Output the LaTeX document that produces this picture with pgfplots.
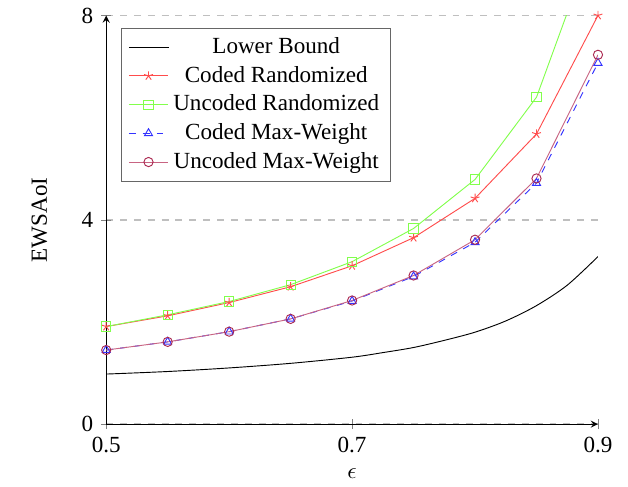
\documentclass[border=0pt]{standalone}
\usepackage{fontspec}
\setmainfont{Liberation Serif}
\usepackage{pgfplots}
\pgfplotsset{compat=1.18}

\definecolor{cmwline}{RGB}{200,100,130}
\definecolor{cmwmark}{RGB}{170,40,80}

\begin{document}
\begin{tikzpicture}
\begin{axis}[
    scale only axis,
    width=213pt,
    height=177pt,
    axis lines=left,
    xmin=0.5, xmax=0.9,
    ymin=0, ymax=8,
    xtick={0.5,0.7,0.9},
    ytick={0,4,8},
    xticklabels={0.5,0.7,0.9},
    ymajorgrids,
    major grid style={gray!50, dashed, thick},
    xlabel={$\epsilon$},
    ylabel={EWSAoI},
    ylabel shift=8pt,
    /pgf/number format/assume math mode=true,
    legend cell align=center,
    legend style={at={(0.03,0.97)}, anchor=north west, draw=black!60},
]
\addplot[black, smooth, no marks] coordinates {
(0.5,0.98) (0.55,1.03) (0.6,1.10) (0.65,1.19) (0.7,1.31) (0.725,1.40)
(0.75,1.50) (0.775,1.64) (0.8,1.80) (0.825,2.02) (0.85,2.32) (0.875,2.72) (0.9,3.28)};
\addlegendentry{Lower Bound}
\addplot[red!70, mark=star, mark options={solid}] coordinates {
(0.5,1.91) (0.55,2.12) (0.6,2.38) (0.65,2.69) (0.7,3.10) (0.75,3.65)
(0.8,4.42) (0.85,5.68) (0.9,8.0)};
\addlegendentry{Coded Randomized}
\addplot[green!60!lime!70, mark=square, mark options={solid}] coordinates {
(0.5,1.91) (0.55,2.14) (0.6,2.40) (0.65,2.73) (0.7,3.18) (0.75,3.83)
(0.8,4.79) (0.85,6.40) (0.9,9.7)};
\addlegendentry{Uncoded Randomized}
\addplot[blue!80, dashed, mark=triangle, mark options={solid}] coordinates {
(0.5,1.45) (0.55,1.61) (0.6,1.81) (0.65,2.06) (0.7,2.41) (0.75,2.89)
(0.8,3.56) (0.85,4.72) (0.9,7.07)};
\addlegendentry{Coded Max-Weight}
\addplot[cmwline, mark=o, mark options={solid, draw=cmwmark}] coordinates {
(0.5,1.45) (0.55,1.61) (0.6,1.81) (0.65,2.06) (0.7,2.42) (0.75,2.91)
(0.8,3.61) (0.85,4.81) (0.9,7.23)};
\addlegendentry{Uncoded Max-Weight}
\end{axis}
\path ([xshift=-46pt,yshift=-23pt]current axis.south west)
  rectangle ([xshift=13pt,yshift=6.5pt]current axis.north east);
\end{tikzpicture}
\end{document}
